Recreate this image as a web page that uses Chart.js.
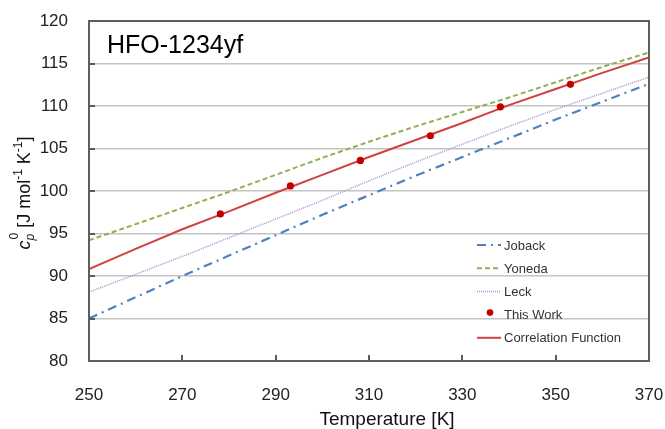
<!DOCTYPE html>
<html><head><meta charset="utf-8">
<script src="https://cdn.jsdelivr.net/npm/chart.js@4/dist/chart.umd.min.js"></script>
<style>html,body{margin:0;padding:0;background:#fff;overflow:hidden}#wrap{width:665px;height:429px;position:relative}</style>
</head><body><div id="wrap"><canvas id="c" width="665" height="429"></canvas></div>
<script>
// ---- data ----
const temperatures = [250, 260, 270, 280, 290, 300, 310, 320, 330, 340, 350, 360, 370];
const joback      = [85.0, 87.5, 90.0, 92.4, 94.8, 97.2, 99.5, 101.8, 104.0, 106.2, 108.4, 110.5, 112.6];
const yoneda      = [94.2, 96.1, 98.0, 99.9, 101.9, 103.9, 105.8, 107.6, 109.3, 111.0, 112.8, 114.6, 116.3];
const leck        = [88.1, 90.2, 92.3, 94.5, 96.7, 98.9, 101.2, 103.4, 105.5, 107.6, 109.6, 111.5, 113.4];
const correlation = [90.8, 93.2, 95.5, 97.6, 99.8, 101.9, 104.0, 106.0, 108.0, 110.1, 112.0, 113.9, 115.7];
const thisWorkT   = [278.15, 293.15, 308.15, 323.15, 338.15, 353.15];
const thisWorkCp  = [97.3, 100.6, 103.6, 106.5, 109.9, 112.55];
const xTickValues = [250, 270, 290, 310, 330, 350, 370];
const yTickValues = [80, 85, 90, 95, 100, 105, 110, 115, 120];
const seriesNames = ['Joback', 'Yoneda', 'Leck', 'This Work', 'Correlation Function'];
const chartTitle = 'HFO-1234yf';
const xTitle = 'Temperature [K]';

const toXY = (xs, ys) => xs.map((x, i) => ({x: x, y: ys[i]}));

const FONT = "'Liberation Sans', Arial, sans-serif";

const decor = {
  id: 'decor',
  afterDraw(chart) {
    const ctx = chart.ctx;
    const a = chart.chartArea;
    const xs = chart.scales.x, ys = chart.scales.y;
    ctx.save();
    // inward tick marks
    ctx.strokeStyle = '#5a5a5a';
    ctx.lineWidth = 2;
    ctx.beginPath();
    yTickValues.forEach(v => {
      if (v === 80 || v === 120) return;
      const y = Math.round(ys.getPixelForValue(v));
      ctx.moveTo(a.left, y); ctx.lineTo(a.left + 6, y);
    });
    xTickValues.forEach(v => {
      if (v === 250 || v === 370) return;
      const x = Math.round(xs.getPixelForValue(v));
      ctx.moveTo(x, a.bottom); ctx.lineTo(x, a.bottom - 6);
    });
    ctx.stroke();
    // frame
    ctx.strokeStyle = '#5e5e5e';
    ctx.lineWidth = 2;
    ctx.strokeRect(a.left, a.top, a.right - a.left, a.bottom - a.top);

    // chart title inside plot
    ctx.fillStyle = '#000';
    ctx.font = '25px ' + FONT;
    ctx.textBaseline = 'alphabetic';
    ctx.textAlign = 'left';
    ctx.fillText(chartTitle, 107, 53);

    // x axis title
    ctx.font = '19px ' + FONT;
    ctx.textAlign = 'center';
    ctx.textBaseline = 'middle';
    ctx.fillStyle = '#111';
    ctx.fillText(xTitle, 387, 420);

    // y axis title (rotated, with sub/superscripts)
    const big = 18, small = 12;
    const parts = [
      {t: 'c', f: 'italic ' + big + 'px ' + FONT, dy: 0},
      {t: 'p', f: 'italic ' + small + 'px ' + FONT, dy: 4, sup0: true},
      {t: ' [J mol', f: big + 'px ' + FONT, dy: 0},
      {t: '-1', f: small + 'px ' + FONT, dy: -8},
      {t: ' K', f: big + 'px ' + FONT, dy: 0},
      {t: '-1', f: small + 'px ' + FONT, dy: -8},
      {t: ']', f: big + 'px ' + FONT, dy: 0}
    ];
    let total = 0;
    parts.forEach(p => { ctx.font = p.f; p.w = ctx.measureText(p.t).width; total += p.w + (p.sup0 ? 1 : 0); });
    ctx.translate(30, 193);
    ctx.rotate(-Math.PI / 2);
    ctx.textAlign = 'left';
    ctx.textBaseline = 'alphabetic';
    let px = -total / 2;
    parts.forEach(p => {
      ctx.font = p.f;
      ctx.fillText(p.t, px, p.dy);
      if (p.sup0) {
        ctx.font = small + 'px ' + FONT;
        ctx.fillText('0', px + 1, -12);
        px += 1;
      }
      px += p.w;
    });
    ctx.restore();

    // legend
    ctx.save();
    const lx0 = 477, lx1 = 501, tx = 504;
    const rowY0 = 245, rowStep = 23.2;
    chart.data.datasets.forEach((ds, i) => {
      const y = rowY0 + i * rowStep;
      if (ds.showLine === false) {
        ctx.fillStyle = ds.backgroundColor;
        ctx.beginPath();
        ctx.arc((lx0 + lx1) / 2 + 1, y - 2, 3.3, 0, Math.PI * 2);
        ctx.fill();
      } else {
        ctx.strokeStyle = ds.borderColor;
        ctx.lineWidth = ds.borderWidth;
        ctx.setLineDash(ds.borderDash || []);
        ctx.beginPath();
        ctx.moveTo(lx0, y); ctx.lineTo(lx1, y);
        ctx.stroke();
        ctx.setLineDash([]);
      }
      ctx.fillStyle = '#333';
      ctx.font = '13px ' + FONT;
      ctx.textAlign = 'left';
      ctx.textBaseline = 'middle';
      ctx.fillText(ds.label, tx, y + 1);
    });
    ctx.restore();
  }
};

new Chart(document.getElementById('c'), {
  type: 'line',
  data: {
    datasets: [
      {label: seriesNames[0], data: toXY(temperatures, joback), borderColor: '#4f81bd', backgroundColor: '#4f81bd',
       borderWidth: 2.2, borderDash: [9, 5, 2, 5], pointRadius: 0, tension: 0, order: 4},
      {label: seriesNames[1], data: toXY(temperatures, yoneda), borderColor: '#8fb153', backgroundColor: '#8fb153',
       borderWidth: 2, borderDash: [5, 3], pointRadius: 0, tension: 0, order: 3},
      {label: seriesNames[2], data: toXY(temperatures, leck), borderColor: '#a898cc', backgroundColor: '#a898cc',
       borderWidth: 1.5, borderDash: [1, 1], pointRadius: 0, tension: 0, order: 5},
      {label: seriesNames[3], data: toXY(thisWorkT, thisWorkCp), showLine: false, borderColor: '#c00000', backgroundColor: '#c00000',
       pointRadius: 3.6, pointHoverRadius: 3.6, borderWidth: 0, order: 0},
      {label: seriesNames[4], data: toXY(temperatures, correlation), borderColor: '#d0423f', backgroundColor: '#d0423f',
       borderWidth: 2, pointRadius: 0, tension: 0, order: 1}
    ]
  },
  options: {
    responsive: false,
    animation: false,
    devicePixelRatio: 1,
    layout: {padding: {left: 0, right: 16, top: 21, bottom: 0}},
    plugins: {legend: {display: false}, tooltip: {enabled: false}, title: {display: false}},
    scales: {
      x: {
        type: 'linear', min: 250, max: 370,
        afterBuildTicks: s => { s.ticks = xTickValues.map(v => ({value: v})); },
        afterFit: s => { s.height = 68; s.paddingLeft = 0; s.paddingRight = 0; },
        grid: {display: false, drawTicks: false},
        border: {display: false},
        ticks: {padding: 24, color: '#222', font: {family: FONT, size: 17}, maxRotation: 0}
      },
      y: {
        min: 80, max: 120,
        afterBuildTicks: s => { s.ticks = yTickValues.map(v => ({value: v})); },
        afterFit: s => { s.width = 89; s.paddingTop = 0; s.paddingBottom = 0; },
        grid: {
          drawTicks: false,
          color: c => (c.tick && (c.tick.value === 80 || c.tick.value === 120)) ? 'rgba(0,0,0,0)' : '#c4c4c4',
          lineWidth: 1.6
        },
        border: {display: false},
        ticks: {padding: 21, color: '#222', font: {family: FONT, size: 17}}
      }
    }
  },
  plugins: [decor]
});
</script>
</body></html>
